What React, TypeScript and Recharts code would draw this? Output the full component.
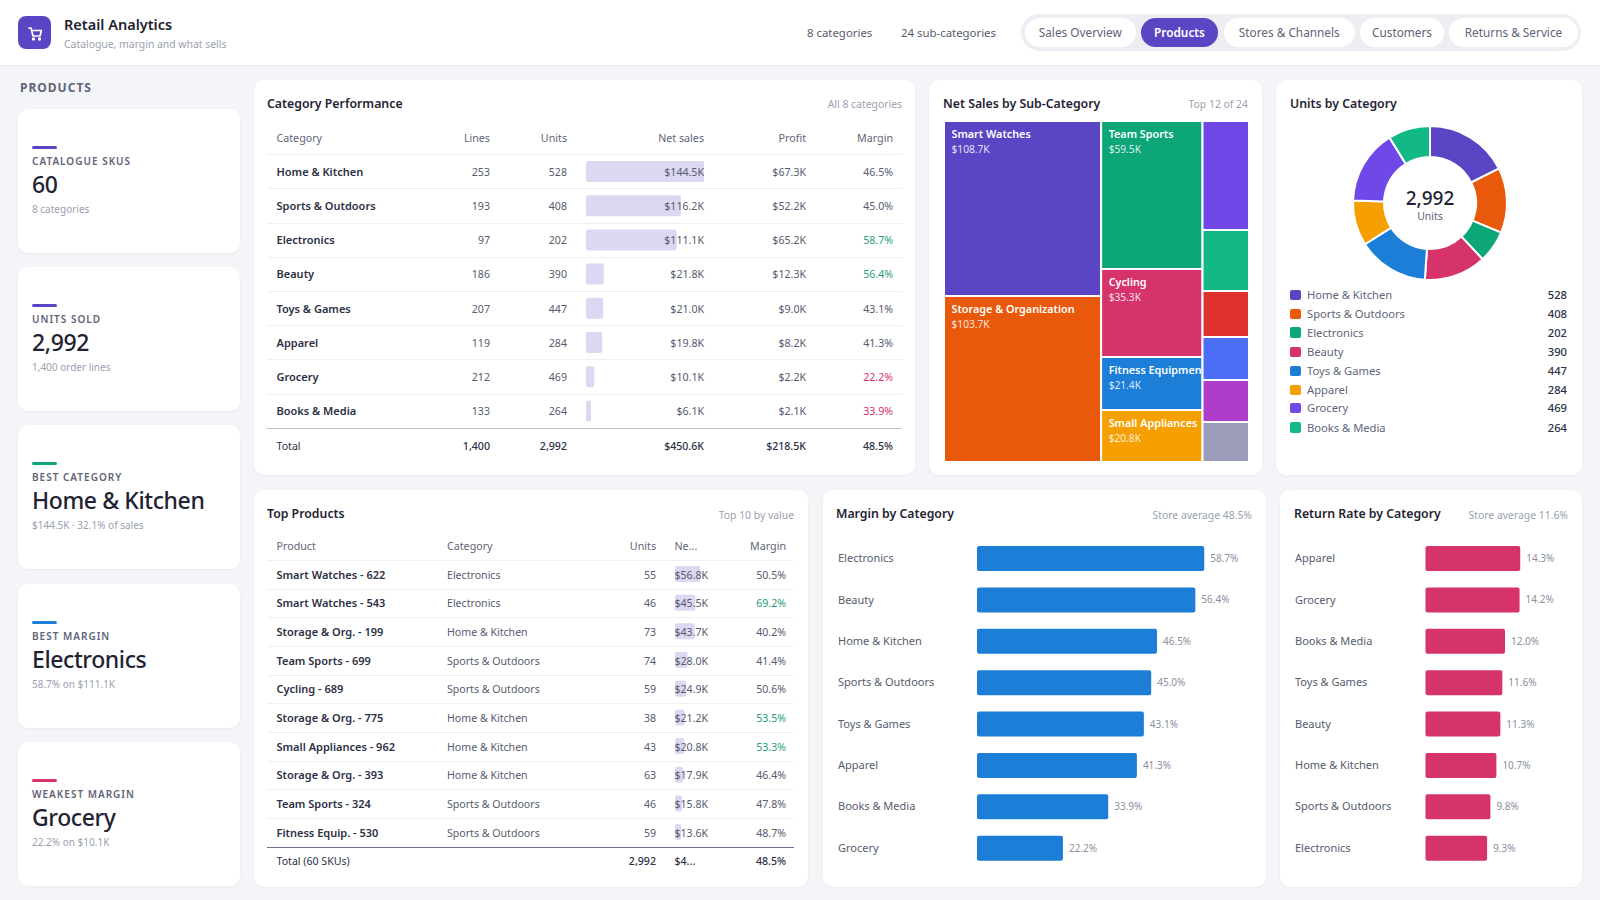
import React from "react";
import { BarChart, Bar, XAxis, YAxis, LabelList, PieChart, Pie, Cell, Treemap } from "recharts";

const FONT = '"Noto Sans", "Open Sans", sans-serif';

const navTabs = ["Sales Overview", "Products", "Stores & Channels", "Customers", "Returns & Service"];
const navTabX = [1024.5, 1141, 1223.5, 1360, 1449];
const navTabW = [111.5, 77, 131.5, 84, 129];

const kpiLabels = ["CATALOGUE SKUS", "UNITS SOLD", "BEST CATEGORY", "BEST MARGIN", "WEAKEST MARGIN"];
const kpiValues = ["60", "2,992", "Home & Kitchen", "Electronics", "Grocery"];
const kpiSubs = ["8 categories", "1,400 order lines", "$144.5K · 32.1% of sales", "58.7% on $111.1K", "22.2% on $10.1K"];
const kpiAccents = ["#5a46c4", "#5a46c4", "#10a37f", "#1c7ed6", "#d6336c"];

const catNames = ["Home & Kitchen", "Sports & Outdoors", "Electronics", "Beauty", "Toys & Games", "Apparel", "Grocery", "Books & Media"];
const catLines = [253, 193, 97, 186, 207, 119, 212, 133];
const catUnits = [528, 408, 202, 390, 447, 284, 469, 264];
const catSales = [144.5, 116.2, 111.1, 21.8, 21.0, 19.8, 10.1, 6.1];
const catProfit = [67.3, 52.2, 65.2, 12.3, 9.0, 8.2, 2.2, 2.1];
const catMargin = [46.5, 45.0, 58.7, 56.4, 43.1, 41.3, 22.2, 33.9];

const treeNames = ["Smart Watches", "Storage & Organization", "Team Sports", "Cycling", "Fitness Equipment", "Small Appliances", "Skincare", "Kitchen Tools", "Outerwear", "Toys", "Makeup", "Books"];
const treeValues = [108.7, 103.7, 59.5, 35.3, 21.4, 20.8, 20.0, 11.2, 8.4, 8.0, 7.7, 7.5];
const treeColors = ["#5a46c4", "#e8590c", "#0ca678", "#d6336c", "#1c7ed6", "#f59f00", "#7048e8", "#12b886", "#e03131", "#4c6ef5", "#ae3ec9", "#9c9cba"];

const donutColors = ["#5a46c4", "#e8590c", "#0ca678", "#d6336c", "#1c7ed6", "#f59f00", "#7048e8", "#12b886"];
const legendY = [295, 314, 332.6, 352, 371, 390, 408, 427.5];

const prodNames = ["Smart Watches - 622", "Smart Watches - 543", "Storage & Org. - 199", "Team Sports - 699", "Cycling - 689", "Storage & Org. - 775", "Small Appliances - 962", "Storage & Org. - 393", "Team Sports - 324", "Fitness Equip. - 530"];
const prodCats = ["Electronics", "Electronics", "Home & Kitchen", "Sports & Outdoors", "Sports & Outdoors", "Home & Kitchen", "Home & Kitchen", "Home & Kitchen", "Sports & Outdoors", "Sports & Outdoors"];
const prodUnits = [55, 46, 73, 74, 59, 38, 43, 63, 46, 59];
const prodSales = [56.8, 45.5, 43.7, 28.0, 24.9, 21.2, 20.8, 17.9, 15.8, 13.6];
const prodMargin = [50.5, 69.2, 40.2, 41.4, 50.6, 53.5, 53.3, 46.4, 47.8, 48.7];

const marginCats = ["Electronics", "Beauty", "Home & Kitchen", "Sports & Outdoors", "Toys & Games", "Apparel", "Books & Media", "Grocery"];
const marginVals = [58.7, 56.4, 46.5, 45.0, 43.1, 41.3, 33.9, 22.2];
const returnCats = ["Apparel", "Grocery", "Books & Media", "Toys & Games", "Beauty", "Home & Kitchen", "Sports & Outdoors", "Electronics"];
const returnVals = [14.3, 14.2, 12.0, 11.6, 11.3, 10.7, 9.8, 9.3];

const INK = "#1f2333";
const BOLD = "#2c3044";
const BODY = "#565b6e";
const MUTED = "#5f6478";
const FAINT = "#9a9fb0";
const GOOD = "#1f9e74";
const BAD = "#d6336c";

const TITLE_SIZE = 12.3;
const NOTE_SIZE = 10.4;
const HEAD_SIZE = 10.7;
const CELL_SIZE = 10.6;
const NAME_SIZE = 11;

type TxProps = { x: number; y: number; right?: boolean; size?: number; weight?: number; color?: string; ls?: number; children: React.ReactNode };
function Tx({ x, y, right, size = 12, weight = 400, color = BODY, ls = 0, children }: TxProps) {
  const style: React.CSSProperties = {
    position: "absolute",
    top: y,
    transform: "translateY(-50%)",
    fontSize: size,
    fontWeight: weight,
    color,
    letterSpacing: ls,
    whiteSpace: "nowrap",
    lineHeight: 1.2,
  };
  if (right) style.right = 1600 - x;
  else style.left = x;
  return <div style={style}>{children}</div>;
}

function Box({ x, y, w, h }: { x: number; y: number; w: number; h: number }) {
  return (
    <div
      style={{
        position: "absolute",
        left: x,
        top: y,
        width: w,
        height: h,
        background: "#fff",
        borderRadius: 10,
        boxShadow: "0 1px 3px rgba(30,35,60,0.05)",
      }}
    />
  );
}

function Rule({ x, y, w, color = "#eef0f4", h = 1 }: { x: number; y: number; w: number; color?: string; h?: number }) {
  return <div style={{ position: "absolute", left: x, top: y, width: w, height: h, background: color }} />;
}

const money = (v: number) => `$${v.toFixed(1)}K`;
const pct = (v: number) => `${v.toFixed(1)}%`;
const marginColor = (v: number) => (v >= 53 ? GOOD : v < 35 ? BAD : BODY);

const TREE_W = 305;
const TREE_H = 341;
const TREE_FRAME = 2500;
const sx = TREE_W / TREE_FRAME;

function TreeCell(props: any) {
  const { x, y, width, height, name, value, index, depth } = props;
  if (depth !== 1) return null;
  const px = x * sx;
  const pw = width * sx;
  return (
    <g>
      <rect x={px} y={y} width={pw} height={height} fill={treeColors[index]} stroke="#fff" strokeWidth={2} />
      {pw > 60 ? (
        <svg x={px} y={y} width={pw - 1} height={height}>
          <text x={7.5} y={16.5} fill="#fff" fontSize={10.8} fontWeight={600}>
            {name}
          </text>
          <text x={7.5} y={31.5} fill="#fff" fillOpacity={0.85} fontSize={10.2}>
            {money(value)}
          </text>
        </svg>
      ) : null}
    </g>
  );
}

function CellBars({ x, y, w, h, vals, barH }: { x: number; y: number; w: number; h: number; vals: number[]; barH: number }) {
  const data = vals.map((v, i) => ({ i, v }));
  return (
    <div style={{ position: "absolute", left: x, top: y }}>
      <BarChart width={w} height={h} data={data} layout="vertical" margin={{ top: 0, right: 0, bottom: 0, left: 0 }}>
        <XAxis type="number" hide domain={[0, Math.max(...vals)]} />
        <YAxis type="category" hide dataKey="i" />
        <Bar dataKey="v" fill="#dcd8f2" barSize={barH} radius={2} isAnimationActive={false} />
      </BarChart>
    </div>
  );
}

function HBars({ x, w, axisW, right, cats, vals, domainMax, color }: { x: number; w: number; axisW: number; right: number; cats: string[]; vals: number[]; domainMax: number; color: string }) {
  const data = cats.map((c, i) => ({ c, v: vals[i] }));
  const tick = (p: any) => (
    <text x={0} y={p.y} dy={3.5} fontSize={11} fill={BODY} textAnchor="start" style={{ fontFamily: FONT }}>
      {p.payload.value}
    </text>
  );
  return (
    <div style={{ position: "absolute", left: x, top: 537.5 }}>
      <BarChart width={w} height={331} data={data} layout="vertical" margin={{ top: 0, right, bottom: 0, left: 0 }}>
        <XAxis type="number" hide domain={[0, domainMax]} />
        <YAxis type="category" dataKey="c" width={axisW} axisLine={false} tickLine={false} interval={0} tick={tick} />
        <Bar dataKey="v" fill={color} barSize={25} radius={2} isAnimationActive={false}>
          <LabelList dataKey="v" position="right" offset={6} formatter={(v: any) => pct(Number(v))} fontSize={10} fill="#8a8fa0" />
        </Bar>
      </BarChart>
    </div>
  );
}

function Sidebar() {
  const cardY = [109, 267, 425, 584, 742];
  return (
    <>
      <Tx x={20} y={87.5} size={12} weight={700} ls={1} color={MUTED}>PRODUCTS</Tx>
      {kpiLabels.map((l, i) => {
        const top = cardY[i];
        return (
          <React.Fragment key={l}>
            <Box x={18} y={top} w={222} h={144} />
            <div style={{ position: "absolute", left: 32, top: top + 37, width: 25, height: 3, borderRadius: 2, background: kpiAccents[i] }} />
            <Tx x={32} y={top + 51.5} size={10} weight={600} ls={1} color={MUTED}>{l}</Tx>
            <Tx x={32} y={top + 75.5} size={23} weight={500} ls={-0.4} color={INK}>{kpiValues[i]}</Tx>
            <Tx x={32} y={top + 100} size={10} color={FAINT}>{kpiSubs[i]}</Tx>
          </React.Fragment>
        );
      })}
    </>
  );
}

function Header() {
  return (
    <>
      <div style={{ position: "absolute", left: 0, top: 0, width: 1600, height: 65, background: "#fff", borderBottom: "1px solid #eceef3" }} />
      <div style={{ position: "absolute", left: 18, top: 16, width: 33, height: 33, borderRadius: 8, background: "#5a46c4" }}>
        <svg x={0} y={0} width={33} height={33} viewBox="0 0 33 33" fill="none" stroke="#fff" strokeWidth={1.7} strokeLinecap="round" strokeLinejoin="round">
          <path d="M11 12h2l2 8h7l1.4-5.5H13.6" />
          <circle cx={15.5} cy={23} r={0.8} />
          <circle cx={21.5} cy={23} r={0.8} />
        </svg>
      </div>
      <Tx x={64} y={24.5} size={14.5} weight={600} color={INK}>Retail Analytics</Tx>
      <Tx x={64} y={44} size={10.4} color={FAINT}>Catalogue, margin and what sells</Tx>
      <Tx x={807} y={32.5} size={11.4} color={BODY}>8 categories</Tx>
      <Tx x={901} y={32.5} size={11.4} color={BODY}>24 sub-categories</Tx>
      <div style={{ position: "absolute", left: 1021, top: 14, width: 560, height: 37, borderRadius: 19, background: "#eceef3" }} />
      {navTabs.map((t, i) => (
        <div
          key={t}
          style={{
            position: "absolute",
            left: navTabX[i],
            top: 18,
            width: navTabW[i],
            height: 29,
            lineHeight: "29px",
            textAlign: "center",
            borderRadius: 15,
            fontSize: 11.8,
            fontWeight: i === 1 ? 600 : 400,
            color: i === 1 ? "#fff" : MUTED,
            background: i === 1 ? "#5a46c4" : "#fff",
          }}
        >
          {t}
        </div>
      ))}
    </>
  );
}

function CategoryTable() {
  const rowY = catNames.map((_, i) => 171.8 + i * 34.2);
  const heads: [string, number, boolean][] = [["Category", 276.5, false], ["Lines", 490, true], ["Units", 567, true], ["Net sales", 704, true], ["Profit", 806, true], ["Margin", 893, true]];
  return (
    <>
      <Box x={254} y={80} w={661} h={395} />
      <Tx x={267} y={103.5} size={TITLE_SIZE} weight={600} color={INK}>Category Performance</Tx>
      <Tx x={902} y={104} right size={NOTE_SIZE} color={FAINT}>All 8 categories</Tx>
      {heads.map(([h, x, r]) => (
        <Tx key={h} x={x} y={138} right={r} size={HEAD_SIZE} color={MUTED}>{h}</Tx>
      ))}
      <Rule x={267} y={154} w={635} />
      <CellBars x={586} y={154.3} w={118} h={273.6} vals={catSales} barH={21} />
      {catNames.map((c, i) => (
        <React.Fragment key={c}>
          <Tx x={276.5} y={rowY[i]} size={NAME_SIZE} weight={600} color={BOLD}>{c}</Tx>
          <Tx x={490} y={rowY[i]} right size={CELL_SIZE}>{catLines[i]}</Tx>
          <Tx x={567} y={rowY[i]} right size={CELL_SIZE}>{catUnits[i]}</Tx>
          <Tx x={704} y={rowY[i]} right size={CELL_SIZE}>{money(catSales[i])}</Tx>
          <Tx x={806} y={rowY[i]} right size={CELL_SIZE}>{money(catProfit[i])}</Tx>
          <Tx x={893} y={rowY[i]} right size={CELL_SIZE} color={marginColor(catMargin[i])}>{pct(catMargin[i])}</Tx>
          {i < 7 ? <Rule x={267} y={171.4 + i * 34.2 + 17} w={635} /> : null}
        </React.Fragment>
      ))}
      <Rule x={267} y={427.5} w={635} color="#b9bdca" h={1.5} />
      <Tx x={276.5} y={446} size={CELL_SIZE} color={BOLD}>Total</Tx>
      <Tx x={490} y={446} right size={CELL_SIZE} weight={500} color={BOLD}>1,400</Tx>
      <Tx x={567} y={446} right size={CELL_SIZE} weight={500} color={BOLD}>2,992</Tx>
      <Tx x={704} y={446} right size={CELL_SIZE} weight={500} color={BOLD}>$450.6K</Tx>
      <Tx x={806} y={446} right size={CELL_SIZE} weight={500} color={BOLD}>$218.5K</Tx>
      <Tx x={893} y={446} right size={CELL_SIZE} weight={500} color={BOLD}>48.5%</Tx>
    </>
  );
}

function TreeCard() {
  const data = treeNames.map((name, i) => ({ name, value: treeValues[i] }));
  return (
    <>
      <Box x={929} y={80} w={333} h={395} />
      <Tx x={943} y={103.5} size={TITLE_SIZE} weight={600} color={INK}>Net Sales by Sub-Category</Tx>
      <Tx x={1248} y={104} right size={NOTE_SIZE} color={FAINT}>Top 12 of 24</Tx>
      <div style={{ position: "absolute", left: 944, top: 121, width: TREE_W, height: TREE_H, overflow: "hidden" }}>
        <Treemap
          width={TREE_FRAME}
          height={TREE_H}
          data={data}
          dataKey="value"
          nameKey="name"
          aspectRatio={9.375}
          isAnimationActive={false}
          content={<TreeCell />}
        />
      </div>
    </>
  );
}

function DonutCard() {
  const data = catNames.map((name, i) => ({ name, value: catUnits[i] }));
  return (
    <>
      <Box x={1276} y={80} w={306} h={395} />
      <Tx x={1290} y={103.5} size={TITLE_SIZE} weight={600} color={INK}>Units by Category</Tx>
      <div style={{ position: "absolute", left: 1330, top: 103 }}>
        <PieChart width={200} height={200} margin={{ top: 0, right: 0, bottom: 0, left: 0 }}>
          <Pie data={data} dataKey="value" nameKey="name" cx={100} cy={100} innerRadius={46} outerRadius={77} startAngle={90} endAngle={-270} stroke="#fff" strokeWidth={2} isAnimationActive={false}>
            {data.map((d, i) => (
              <Cell key={d.name} fill={donutColors[i]} />
            ))}
          </Pie>
        </PieChart>
      </div>
      <div style={{ position: "absolute", left: 1380, top: 186, width: 100, textAlign: "center", fontSize: 19, fontWeight: 500, lineHeight: "24px", color: INK }}>2,992</div>
      <div style={{ position: "absolute", left: 1380, top: 209, width: 100, textAlign: "center", fontSize: 10.5, lineHeight: "14px", color: MUTED }}>Units</div>
      {catNames.map((c, i) => (
        <React.Fragment key={c}>
          <div style={{ position: "absolute", left: 1290, top: legendY[i] - 5.5, width: 10.5, height: 10.5, borderRadius: 2, background: donutColors[i] }} />
          <Tx x={1307} y={legendY[i]} size={11.2} color={MUTED}>{c}</Tx>
          <Tx x={1567} y={legendY[i]} right size={11.2} weight={500} color={BOLD}>{catUnits[i]}</Tx>
        </React.Fragment>
      ))}
    </>
  );
}

function ProductsTable() {
  const rowY = prodNames.map((_, i) => 574.5 + i * 28.68);
  return (
    <>
      <Box x={254} y={490} w={554} h={397} />
      <Tx x={267} y={513.5} size={TITLE_SIZE} weight={600} color={INK}>Top Products</Tx>
      <Tx x={794} y={514.5} right size={NOTE_SIZE} color={FAINT}>Top 10 by value</Tx>
      <Tx x={276.5} y={546} size={HEAD_SIZE} color={MUTED}>Product</Tx>
      <Tx x={447} y={546} size={HEAD_SIZE} color={MUTED}>Category</Tx>
      <Tx x={656} y={546} right size={HEAD_SIZE} color={MUTED}>Units</Tx>
      <Tx x={674.5} y={546} size={HEAD_SIZE} color={MUTED}>Ne...</Tx>
      <Tx x={786} y={546} right size={HEAD_SIZE} color={MUTED}>Margin</Tx>
      <Rule x={267} y={560} w={527} />
      <CellBars x={674.5} y={560.2} w={25.5} h={286.8} vals={prodSales} barH={16} />
      {prodNames.map((n, i) => (
        <React.Fragment key={n}>
          <Tx x={276.5} y={rowY[i]} size={NAME_SIZE} weight={600} color={BOLD}>{n}</Tx>
          <Tx x={447} y={rowY[i]} size={CELL_SIZE}>{prodCats[i]}</Tx>
          <Tx x={656} y={rowY[i]} right size={CELL_SIZE}>{prodUnits[i]}</Tx>
          <Tx x={674.5} y={rowY[i]} size={CELL_SIZE}>{money(prodSales[i])}</Tx>
          <Tx x={786} y={rowY[i]} right size={CELL_SIZE} color={prodMargin[i] >= 53 ? GOOD : BODY}>{pct(prodMargin[i])}</Tx>
          {i < 9 ? <Rule x={267} y={rowY[i] + 14} w={527} /> : null}
        </React.Fragment>
      ))}
      <Rule x={267} y={847} w={527} color="#6b6f95" h={1.2} />
      <Tx x={276.5} y={861} size={CELL_SIZE} color={BOLD}>Total (60 SKUs)</Tx>
      <Tx x={656} y={861} right size={CELL_SIZE} weight={500} color={BOLD}>2,992</Tx>
      <Tx x={674.5} y={861} size={CELL_SIZE} weight={500} color={BOLD}>$4...</Tx>
      <Tx x={786} y={861} right size={CELL_SIZE} weight={500} color={BOLD}>48.5%</Tx>
    </>
  );
}

function MarginCard() {
  return (
    <>
      <Box x={823} y={490} w={443} h={397} />
      <Tx x={836} y={513.5} size={TITLE_SIZE} weight={600} color={INK}>Margin by Category</Tx>
      <Tx x={1252} y={514.5} right size={NOTE_SIZE} color={FAINT}>Store average 48.5%</Tx>
      <HBars x={838} w={430} axisW={139} right={20} cats={marginCats} vals={marginVals} domainMax={70} color="#1c7ed6" />
    </>
  );
}

function ReturnCard() {
  return (
    <>
      <Box x={1280} y={490} w={302} h={397} />
      <Tx x={1294} y={513.5} size={TITLE_SIZE} weight={600} color={INK}>Return Rate by Category</Tx>
      <Tx x={1568} y={514.5} right size={NOTE_SIZE} color={FAINT}>Store average 11.6%</Tx>
      <HBars x={1295} w={287} axisW={130.5} right={24} cats={returnCats} vals={returnVals} domainMax={20} color="#d6336c" />
    </>
  );
}

export default function App() {
  return (
    <div style={{ position: "absolute", left: 0, top: 0, width: 1600, height: 900, background: "#f4f5f8", fontFamily: FONT, overflow: "hidden" }}>
      <Header />
      <Sidebar />
      <CategoryTable />
      <TreeCard />
      <DonutCard />
      <ProductsTable />
      <MarginCard />
      <ReturnCard />
    </div>
  );
}
